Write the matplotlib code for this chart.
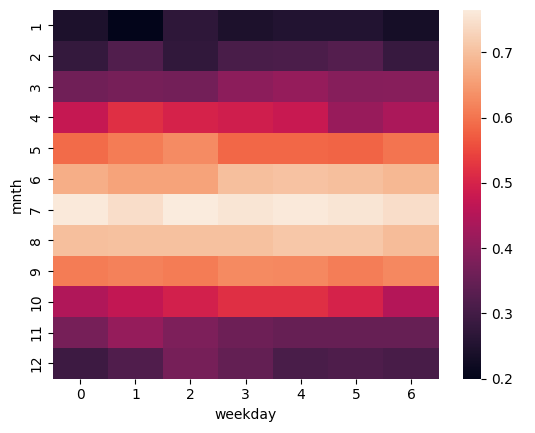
import matplotlib
matplotlib.use("Agg")
import matplotlib.pyplot as plt
import seaborn as sns
import pandas as pd

months = list(range(1, 13))
weekdays = list(range(0, 7))

m1 = [0.242, 0.200, 0.270, 0.242, 0.252, 0.252, 0.232]
m2 = [0.278, 0.320, 0.275, 0.310, 0.312, 0.325, 0.283]
m3 = [0.363, 0.370, 0.367, 0.400, 0.410, 0.390, 0.393]
m4 = [0.475, 0.520, 0.500, 0.490, 0.480, 0.415, 0.440]
m5 = [0.590, 0.610, 0.630, 0.585, 0.585, 0.580, 0.600]
m6 = [0.675, 0.660, 0.660, 0.700, 0.705, 0.700, 0.688]
m7 = [0.762, 0.745, 0.765, 0.755, 0.762, 0.755, 0.745]
m8 = [0.700, 0.703, 0.703, 0.703, 0.710, 0.710, 0.695]
m9 = [0.610, 0.615, 0.610, 0.627, 0.625, 0.612, 0.625]
m10 = [0.445, 0.470, 0.495, 0.520, 0.520, 0.500, 0.450]
m11 = [0.370, 0.410, 0.380, 0.358, 0.350, 0.348, 0.348]
m12 = [0.292, 0.317, 0.370, 0.345, 0.310, 0.315, 0.308]

rows = [m1, m2, m3, m4, m5, m6, m7, m8, m9, m10, m11, m12]
df = pd.DataFrame(rows, index=pd.Index(months, name="mnth"),
                  columns=pd.Index(weekdays, name="weekday"))

fig, ax = plt.subplots(figsize=(5.35, 4.33), dpi=100)
sns.heatmap(df, ax=ax)
fig.subplots_adjust(left=0.0985, right=1.0, top=0.977, bottom=0.1255)
fig.savefig("out.png", dpi=100)
